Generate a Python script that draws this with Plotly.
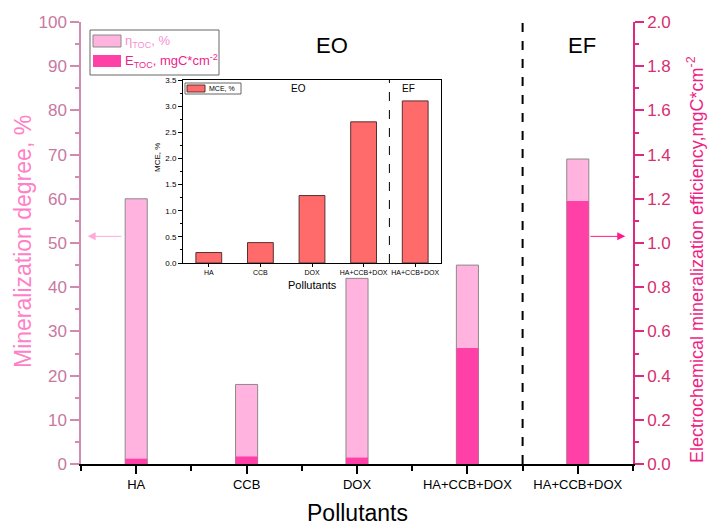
import plotly.graph_objects as go

# ---- data ----
categories = ["HA", "CCB", "DOX", "HA+CCB+DOX", "HA+CCB+DOX"]
eta_toc = [60.0, 18.0, 42.0, 45.0, 69.0]          # mineralization degree, %
e_toc = [0.024, 0.034, 0.029, 0.525, 1.19]        # mgC*cm^-2
mce = [0.20, 0.39, 1.29, 2.70, 3.10]              # MCE, %

W, H = 708, 526
FONT = "Arial, Liberation Sans, sans-serif"
xs = list(range(len(categories)))

def px(x):
    return x / W

def py(y):
    return 1 - y / H

fig = go.Figure()

fig.add_trace(go.Bar(x=xs, y=eta_toc, width=0.2, yaxis="y", xaxis="x",
                     marker=dict(color="#ffb3de", line=dict(color="#8a8a8a", width=1)),
                     showlegend=False))
fig.add_trace(go.Bar(x=xs, y=e_toc, width=0.2, yaxis="y2", xaxis="x",
                     marker=dict(color="#ff40a6", line=dict(width=0)),
                     showlegend=False))
fig.add_trace(go.Bar(x=xs, y=mce, width=0.5, xaxis="x3", yaxis="y3",
                     marker=dict(color="#ff6b6b", line=dict(color="#5a3030", width=1)),
                     showlegend=False))

left_col = "#c8789f"
left_line = "#d08cb0"
right_col = "#d6306f"
right_line = "#dd2a80"

xdom = [px(81), px(633)]
ydom = [py(464), py(22)]
bounds = [-0.5, 0.5, 1.5, 2.5, 3.5, 4.5]

fig.update_layout(
    width=W, height=H, autosize=False,
    margin=dict(l=0, r=0, t=0, b=0, pad=0),
    paper_bgcolor="white", plot_bgcolor="rgba(0,0,0,0)",
    barmode="overlay",
    font=dict(family=FONT),
    xaxis=dict(domain=xdom, range=[-0.5, 4.5], anchor="y", automargin=False,
               tickvals=xs, ticktext=categories,
               ticks="outside", ticklen=8, tickwidth=1.5, tickcolor="black",
               minor=dict(tickvals=bounds, ticks="outside", ticklen=5, tickcolor="black", tickwidth=1.5),
               showline=True, linecolor="black", linewidth=1.5,
               showgrid=False, zeroline=False,
               tickfont=dict(size=13, color="black")),
    xaxis4=dict(overlaying="x", side="top", range=[-0.5, 4.5], anchor="y", automargin=False,
                tickvals=xs, ticks="inside", ticklen=6, tickwidth=1.5, tickcolor="black",
                minor=dict(tickvals=bounds, ticks="inside", ticklen=4, tickcolor="black", tickwidth=1.5),
                showticklabels=False, showline=True, linecolor="black", linewidth=1.5,
                showgrid=False, zeroline=False),
    yaxis=dict(domain=ydom, range=[0, 100], anchor="x", automargin=False,
               tickvals=list(range(0, 101, 10)),
               ticks="outside", ticklen=9, tickwidth=1.5, tickcolor=left_line,
               minor=dict(dtick=5, ticks="outside", ticklen=4, tickcolor=left_line, tickwidth=1.5),
               showline=True, linecolor=left_line, linewidth=1.5,
               showgrid=False, zeroline=False,
               tickfont=dict(size=17, color=left_col)),
    yaxis2=dict(overlaying="y", side="right", range=[0, 2], anchor="x", automargin=False,
                tickvals=[i / 10 for i in range(0, 21, 2)],
                ticktext=[f"{i / 10:.1f}" for i in range(0, 21, 2)],
                ticks="outside", ticklen=9, tickwidth=1.5, tickcolor=right_line,
                minor=dict(dtick=0.1, ticks="outside", ticklen=4, tickcolor=right_line, tickwidth=1.5),
                showline=True, linecolor=right_line, linewidth=1.5,
                showgrid=False, zeroline=False,
                tickfont=dict(size=17, color=right_col)),
    xaxis3=dict(domain=[px(183), px(441)], range=[-0.5, 4.5], anchor="y3", automargin=False,
                tickvals=xs, ticktext=categories,
                ticks="outside", ticklen=3, tickcolor="black",
                showline=True, linecolor="black", linewidth=1, mirror=True,
                showgrid=False, zeroline=False,
                tickfont=dict(size=7, color="black")),
    yaxis3=dict(domain=[py(263), py(80)], range=[0, 3.5], anchor="x3", automargin=False,
                tickvals=[i / 2 for i in range(0, 8)],
                ticktext=[f"{i / 2:.1f}" for i in range(0, 8)],
                ticks="outside", ticklen=4, tickcolor="black",
                minor=dict(dtick=0.25, ticks="outside", ticklen=2, tickcolor="black"),
                showline=True, linecolor="black", linewidth=1, mirror=True,
                showgrid=False, zeroline=False,
                tickfont=dict(size=8, color="black")),
)

shapes = []
# EO/EF separators
shapes.append(dict(type="line", xref="x", yref="y", x0=3.5, x1=3.5, y0=0, y1=100,
                   line=dict(color="black", width=2, dash="dash")))
shapes.append(dict(type="line", xref="x3", yref="y3", x0=3.5, x1=3.5, y0=0, y1=3.5,
                   line=dict(color="black", width=1, dash="dash")))
# main legend
shapes.append(dict(type="rect", xref="paper", yref="paper", x0=px(90), x1=px(219), y0=py(75), y1=py(30),
                   line=dict(color="#666666", width=1), fillcolor="white"))
shapes.append(dict(type="rect", xref="paper", yref="paper", x0=px(93), x1=px(121), y0=py(47), y1=py(35),
                   line=dict(color="#8a8a8a", width=1), fillcolor="#ffb3de"))
shapes.append(dict(type="rect", xref="paper", yref="paper", x0=px(93), x1=px(121), y0=py(67), y1=py(55),
                   line=dict(width=0), fillcolor="#ff40a6"))
# inset legend
shapes.append(dict(type="rect", xref="paper", yref="paper", x0=px(185), x1=px(241), y0=py(94), y1=py(83),
                   line=dict(color="#666666", width=1), fillcolor="white"))
shapes.append(dict(type="rect", xref="paper", yref="paper", x0=px(187), x1=px(205), y0=py(92), y1=py(85),
                   line=dict(color="#5a3030", width=1), fillcolor="#ff6b6b"))

ann = []
def text(x, y, s, size, color="black", angle=0, xanchor="center"):
    ann.append(dict(xref="paper", yref="paper", x=px(x), y=py(y), text=s, showarrow=False,
                    textangle=angle, xanchor=xanchor, yanchor="middle",
                    font=dict(size=size, color=color, family=FONT)))

text(123, 41, "η<sub>TOC</sub>, %", 13, "#f890d0", xanchor="left")
text(123, 61, "E<sub>TOC</sub>, mgC*cm<sup>-2</sup>", 13, "#ee1f8c", xanchor="left")
text(332, 46, "EO", 22)
text(582, 46, "EF", 22)
text(357, 513, "Pollutants", 23)
text(23, 242, "Mineralization degree, %", 23, "#ff80c6", angle=-90)
text(695, 260, "Electrochemical mineralization efficiency,mgC*cm<sup>-2</sup>", 18, "#ee1f86", angle=-90)
# inset texts
text(207, 88, "MCE, %", 7, xanchor="left")
text(298, 88, "EO", 10)
text(408, 88, "EF", 10)
text(312, 285, "Pollutants", 11)
text(157, 158, "MCE, %", 8, angle=-90)

# arrows
ann.append(dict(xref="x", yref="y", x=-0.44, y=51.5, axref="x", ayref="y", ax=-0.12, ay=51.5,
                showarrow=True, arrowhead=2, arrowsize=1.6, arrowwidth=1, arrowcolor="#ffaad8", text=""))
ann.append(dict(xref="x", yref="y2", x=4.43, y=1.03, axref="x", ayref="y2", ax=4.1, ay=1.03,
                showarrow=True, arrowhead=2, arrowsize=1.6, arrowwidth=1, arrowcolor="#ff1a8c", text=""))

fig.update_layout(shapes=shapes, annotations=ann)
fig.write_html("out.html")
